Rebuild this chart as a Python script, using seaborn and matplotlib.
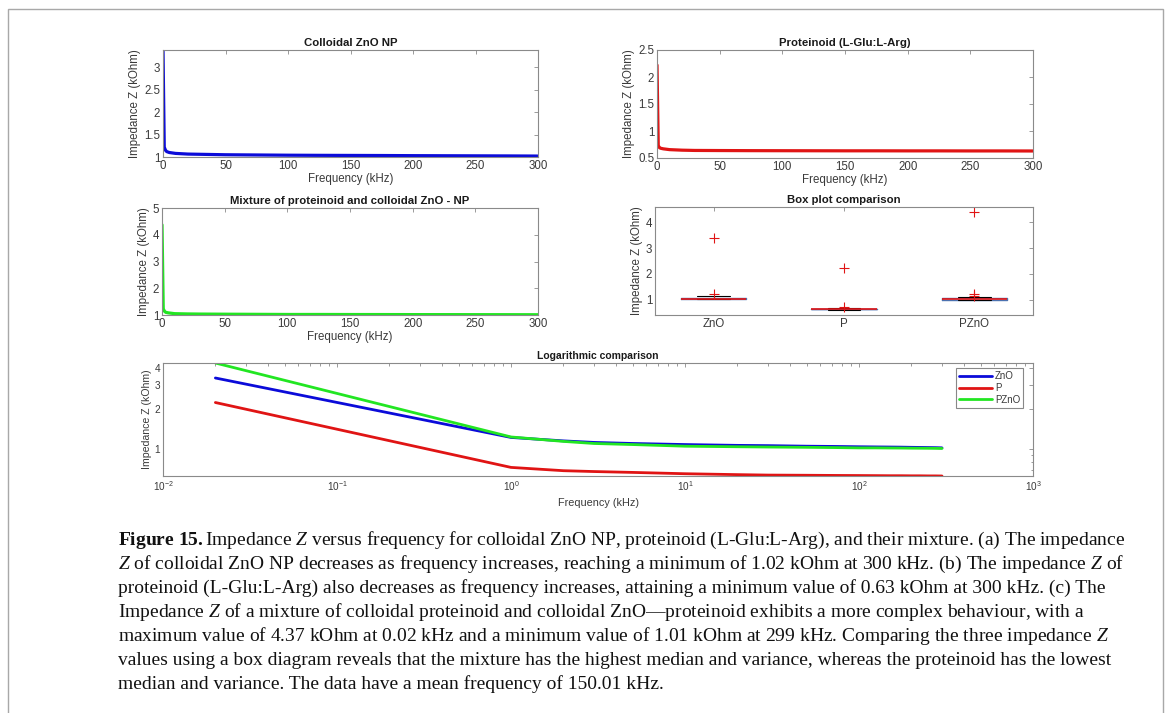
import numpy as np
import pandas as pd
import matplotlib
matplotlib.use("Agg")
import matplotlib.pyplot as plt
import seaborn as sns
from matplotlib.patches import Rectangle
from matplotlib.ticker import FixedLocator, NullFormatter, LogLocator, FixedFormatter

# ---------------- data ----------------
freq_khz = [0.02, 1, 2, 3, 5, 10, 20, 30, 50, 75, 100, 125, 150, 175, 200, 225, 250, 275, 299, 300]
z_zno = [3.38, 1.22, 1.15, 1.12, 1.10, 1.08, 1.065, 1.06, 1.05, 1.045, 1.04, 1.037, 1.035, 1.033,
         1.03, 1.028, 1.026, 1.024, 1.021, 1.02]
z_p = [2.22, 0.73, 0.69, 0.68, 0.67, 0.655, 0.645, 0.64, 0.638, 0.636, 0.635, 0.634, 0.633, 0.633,
       0.632, 0.632, 0.631, 0.631, 0.630, 0.63]
z_pzno = [4.37, 1.23, 1.14, 1.10, 1.08, 1.05, 1.04, 1.035, 1.03, 1.025, 1.02, 1.02, 1.018, 1.017,
          1.015, 1.014, 1.013, 1.012, 1.01, 1.011]
series_labels = ["ZnO", "P", "PZnO"]
series_colors = ["#0b0bd9", "#e01414", "#22e622"]
panel_titles = ["Colloidal ZnO NP", "Proteinoid (L-Glu:L-Arg)",
                "Mixture of proteinoid and colloidal ZnO - NP", "Box plot comparison",
                "Logarithmic comparison"]
xlabel_txt = "Frequency (kHz)"
ylabel_txt = "Impedance Z (kOhm)"
lin_xticks = [0, 50, 100, 150, 200, 250, 300]

caption_lines = [
    r"$\mathbf{Figure}$ $\mathbf{15.}$Impedance $Z$ versus frequency for colloidal ZnO NP, proteinoid (L-Glu:L-Arg), and their mixture. (a) The impedance",
    r"$Z$ of colloidal ZnO NP decreases as frequency increases, reaching a minimum of 1.02 kOhm at 300 kHz. (b) The impedance $Z$ of",
    r"proteinoid (L-Glu:L-Arg) also decreases as frequency increases, attaining a minimum value of 0.63 kOhm at 300 kHz. (c) The",
    r"Impedance $Z$ of a mixture of colloidal proteinoid and colloidal ZnO—proteinoid exhibits a more complex behaviour, with a",
    r"maximum value of 4.37 kOhm at 0.02 kHz and a minimum value of 1.01 kOhm at 299 kHz. Comparing the three impedance $Z$",
    r"values using a box diagram reveals that the mixture has the highest median and variance, whereas the proteinoid has the lowest",
    r"median and variance. The data have a mean frequency of 150.01 kHz.",
]

# ---------------- style ----------------
sns.set_theme(style="white")
plt.rcParams["font.family"] = ["Liberation Sans", "DejaVu Sans"]
plt.rcParams["mathtext.fontset"] = "custom"
plt.rcParams["mathtext.rm"] = "Liberation Serif"
plt.rcParams["mathtext.it"] = "Liberation Serif:italic"
plt.rcParams["mathtext.bf"] = "Liberation Serif:bold"

W, H = 1167, 713
fig = plt.figure(figsize=(W / 100, H / 100), dpi=100)
fig.patch.set_facecolor("white")

AX_EDGE = "#8a8a8a"
TXT = "#3a3a3a"
FS = 8.3


def ax_px(l, t, r, b):
    return fig.add_axes([l / W, 1 - b / H, (r - l) / W, (b - t) / H])


def style(ax, fs=FS):
    for s in ax.spines.values():
        s.set_color(AX_EDGE)
        s.set_linewidth(0.8)
        s.set_visible(True)
    ax.tick_params(which="both", direction="in", top=True, right=True, length=3, width=0.6,
                   color=AX_EDGE, labelcolor=TXT, labelsize=fs, pad=2)
    ax.tick_params(which="minor", length=1.8)
    ax.set_facecolor("white")


def title(ax, t, fs=8.2):
    ax.set_title(t, fontsize=fs, fontweight="bold", color="#1a1a1a", pad=3)


def line_panel(box, z, color, ylim, yticks, ttl):
    ax = ax_px(*box)
    sns.lineplot(x=freq_khz, y=z, ax=ax, color=color, lw=2.3, estimator=None, sort=False)
    ax.set_xlim(0, 300)
    ax.set_ylim(*ylim)
    ax.set_xticks(lin_xticks)
    ax.set_yticks(yticks)
    ax.set_yticklabels([f"{v:g}" for v in yticks])
    style(ax)
    title(ax, ttl)
    ax.set_xlabel(xlabel_txt, fontsize=FS, color=TXT, labelpad=1)
    ax.set_ylabel(ylabel_txt, fontsize=FS, color=TXT, labelpad=2)
    return ax


line_panel((163, 50, 538, 157), z_zno, series_colors[0], (1.0, 3.38), [1, 1.5, 2, 2.5, 3], panel_titles[0])
line_panel((657, 50, 1033, 158), z_p, series_colors[1], (0.5, 2.5), [0.5, 1, 1.5, 2, 2.5], panel_titles[1])
line_panel((162, 208, 538, 315), z_pzno, series_colors[2], (1, 5), [1, 2, 3, 4, 5], panel_titles[2])

# ---------------- box plot ----------------
axb = ax_px(655, 207, 1033, 315)
box_df = pd.DataFrame({
    "sample": np.repeat(series_labels, len(freq_khz)),
    "z": np.concatenate([z_zno, z_p, z_pzno]),
})
sns.boxplot(data=box_df, x="sample", y="z", order=series_labels, ax=axb, width=0.5,
            fill=False, linecolor="#3a2ad0", linewidth=1.0,
            medianprops=dict(color="#e01414", linewidth=1.2),
            whiskerprops=dict(color="black", linestyle="--", linewidth=0.8),
            capprops=dict(color="black", linewidth=0.8),
            flierprops=dict(marker="+", markeredgecolor="#e01414", markersize=7, markeredgewidth=0.8))
axb.set_xlim(-0.45, 2.45)
axb.set_ylim(0.42, 4.58)
axb.set_yticks([1, 2, 3, 4])
style(axb)
title(axb, panel_titles[3])
axb.set_xlabel("")
axb.set_ylabel(ylabel_txt, fontsize=FS, color=TXT, labelpad=2)

# ---------------- log plot ----------------
axl = ax_px(163, 363, 1033, 476)
log_df = pd.DataFrame({
    "freq": np.tile(freq_khz, 3),
    "z": np.concatenate([z_zno, z_p, z_pzno]),
    "sample": np.repeat(series_labels, len(freq_khz)),
})
sns.lineplot(data=log_df, x="freq", y="z", hue="sample", hue_order=series_labels,
             palette=dict(zip(series_labels, series_colors)), ax=axl, lw=2.0,
             estimator=None, sort=False)
axl.set_xscale("log")
axl.set_yscale("log")
axl.set_xlim(1e-2, 1e3)
axl.set_ylim(0.63, 4.37)
axl.yaxis.set_major_locator(FixedLocator([1, 2, 3, 4]))
axl.yaxis.set_major_formatter(FixedFormatter(["1", "2", "3", "4"]))
axl.yaxis.set_minor_locator(LogLocator(base=10, subs=np.arange(1, 10) * 0.1 + 0.0, numticks=20))
axl.yaxis.set_minor_formatter(NullFormatter())
axl.xaxis.set_minor_locator(LogLocator(base=10, subs=np.arange(2, 10), numticks=20))
axl.xaxis.set_minor_formatter(NullFormatter())
style(axl, fs=7.2)
title(axl, panel_titles[4], fs=7.5)
axl.set_xlabel(xlabel_txt, fontsize=7.8, color=TXT, labelpad=4)
axl.set_ylabel(ylabel_txt, fontsize=7.6, color=TXT, labelpad=2)
leg = axl.legend(loc="upper right", bbox_to_anchor=(0.9885, 0.955), fontsize=7.0, frameon=True,
                 handlelength=3.4, handletextpad=0.3, borderpad=0.3, labelspacing=0.2,
                 fancybox=False, borderaxespad=0)
leg.get_frame().set_edgecolor("#6a6a6a")
leg.get_frame().set_linewidth(0.8)
for t in leg.get_texts():
    t.set_color(TXT)

# ---------------- caption ----------------
baselines = [545, 569, 593, 617, 641, 665, 689]
for txt, yb in zip(caption_lines, baselines):
    fig.text(118 / W, 1 - yb / H, txt, fontsize=14.0, family="Liberation Serif",
             color="#111111", va="baseline", ha="left")

# outer frame
fig.patches.append(Rectangle((8 / W, -0.02), (1163 - 8) / W, 1 - 9 / H + 0.02,
                             transform=fig.transFigure, fill=False,
                             edgecolor="#a8a8a8", linewidth=1.0))

fig.savefig("out.png", dpi=100, facecolor="white")
